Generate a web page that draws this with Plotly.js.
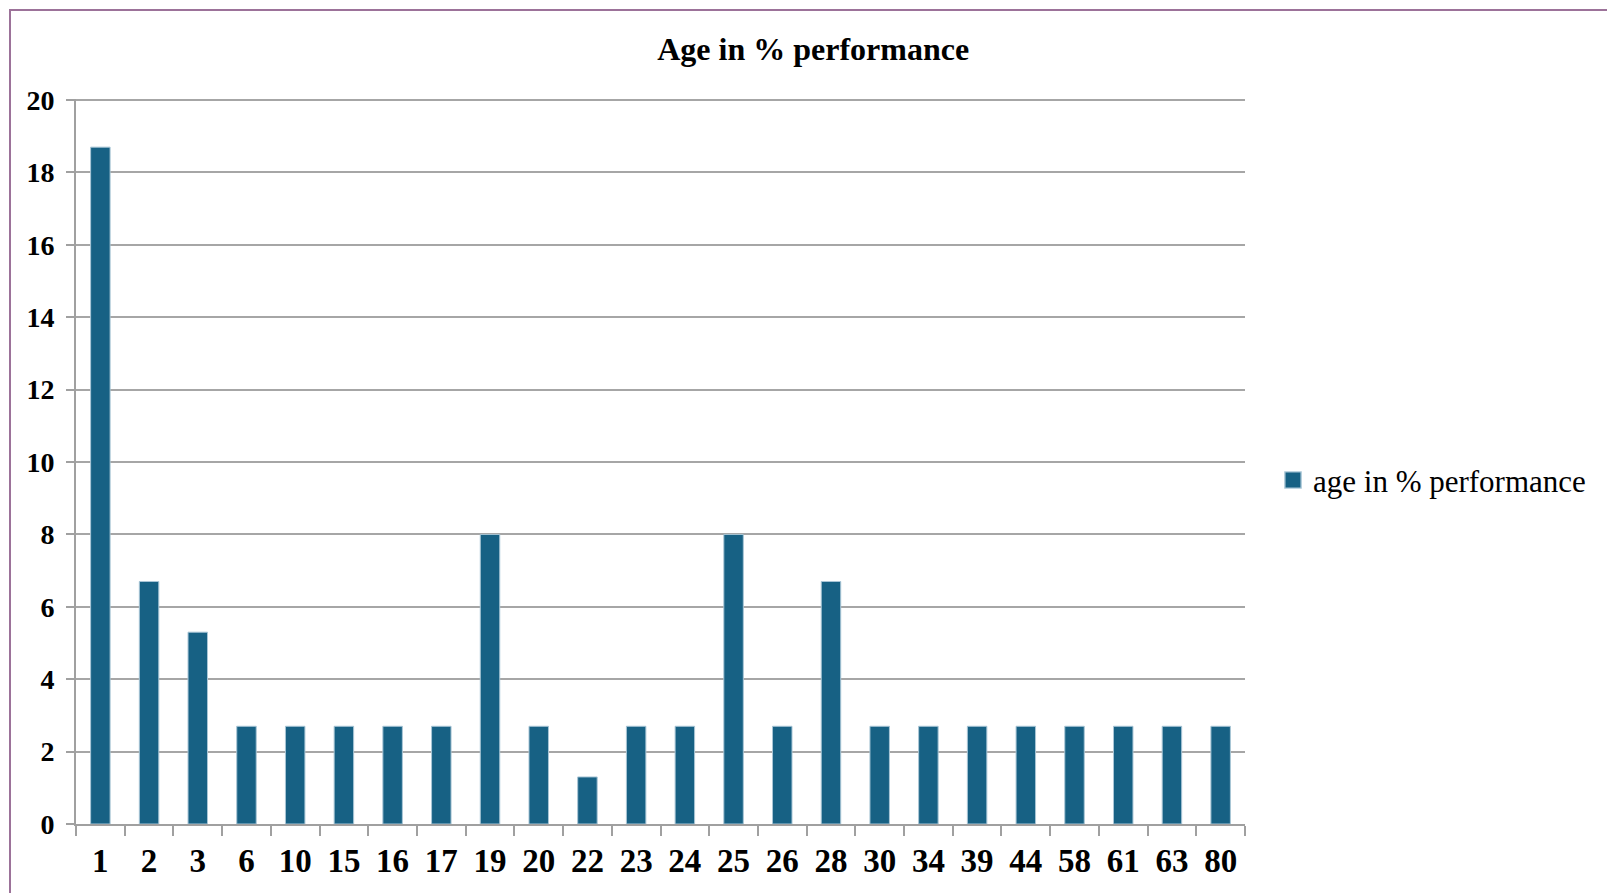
<!DOCTYPE html>
<html>
<head>
<meta charset="utf-8">
<script src="https://cdn.plot.ly/plotly-3.0.1.min.js"></script>
<style>
  html, body { margin: 0; padding: 0; background: #ffffff; }
  #wrap { position: relative; width: 1607px; height: 893px; overflow: hidden; }
  #chart { position: absolute; left: 0; top: 0; width: 1607px; height: 893px; }
  #frame { position: absolute; left: 9px; top: 9px; width: 1700px; height: 1000px;
           border-left: 2px solid #9c7299; border-top: 2px solid #9c7299; pointer-events: none; }
</style>
</head>
<body>
<div id="wrap">
  <div id="chart"></div>
  <div id="frame"></div>
</div>
<script>
// Age groups and share of performance (%)
const ages = ['1', '2', '3', '6', '10', '15', '16', '17', '19', '20', '22', '23',
              '24', '25', '26', '28', '30', '34', '39', '44', '58', '61', '63', '80'];
const percent = [18.7, 6.7, 5.3, 2.7, 2.7, 2.7, 2.7, 2.7, 8, 2.7, 1.3, 2.7,
                 2.7, 8, 2.7, 6.7, 2.7, 2.7, 2.7, 2.7, 2.7, 2.7, 2.7, 2.7];
const seriesName = 'age in % performance';
const chartTitle = 'Age in % performance';
const yTicks = [0, 2, 4, 6, 8, 10, 12, 14, 16, 18, 20];

const serif = '"Liberation Serif", "Times New Roman", Times, serif';

const trace = {
  type: 'bar',
  x: ages,
  y: percent,
  name: seriesName,
  showlegend: true,
  marker: { color: '#176184', line: { color: '#a9c6d6', width: 1 } },
  hoverinfo: 'x+y'
};

const layout = {
  width: 1607,
  height: 893,
  paper_bgcolor: '#ffffff',
  plot_bgcolor: '#ffffff',
  margin: { l: 76, r: 362, t: 99, b: 69 },
  title: {
    text: '<b>' + chartTitle + '</b>',
    font: { family: serif, size: 32, color: '#000000' },
    x: 0.506, xanchor: 'center', xref: 'container',
    y: 0.945, yanchor: 'middle', yref: 'container'
  },
  bargap: 0.6,
  showlegend: true,
  legend: {
    x: 1.0 + (1273 - 1245) / 1169, xanchor: 'left',
    y: 0.474, yanchor: 'middle',
    font: { family: serif, size: 31, color: '#000000' },
    bgcolor: 'rgba(0,0,0,0)'
  },
  xaxis: {
    type: 'category',
    tickson: 'boundaries',
    ticks: 'outside',
    ticklen: 10,
    tickcolor: '#a0a0a0',
    tickwidth: 2,
    showline: true,
    linecolor: '#a0a0a0',
    linewidth: 2,
    showgrid: false,
    zeroline: false,
    ticklabelstandoff: 6,
    tickfont: { family: serif, size: 33, color: '#000000', weight: 'bold' },
    fixedrange: true
  },
  yaxis: {
    // a hair past 20 so the top gridline is kept
    range: [0, 20.03],
    tickvals: yTicks,
    ticktext: yTicks.map(String),
    ticks: 'outside',
    ticklen: 8,
    tickcolor: '#a0a0a0',
    tickwidth: 2,
    showline: true,
    linecolor: '#a0a0a0',
    linewidth: 2,
    showgrid: true,
    gridcolor: '#a6a6a6',
    gridwidth: 2,
    zeroline: false,
    ticklabelstandoff: 6,
    tickfont: { family: serif, size: 28, color: '#000000', weight: 'bold' },
    fixedrange: true
  }
};

Plotly.newPlot('chart', [trace], layout, { displayModeBar: false, staticPlot: true }).then(function (gd) {
  // enlarge the legend swatch
  gd.querySelectorAll('.legendpoints path').forEach(function (p) {
    const t = p.getAttribute('transform') || '';
    p.setAttribute('transform', t + ' scale(1.35)');
  });
});
</script>
</body>
</html>
